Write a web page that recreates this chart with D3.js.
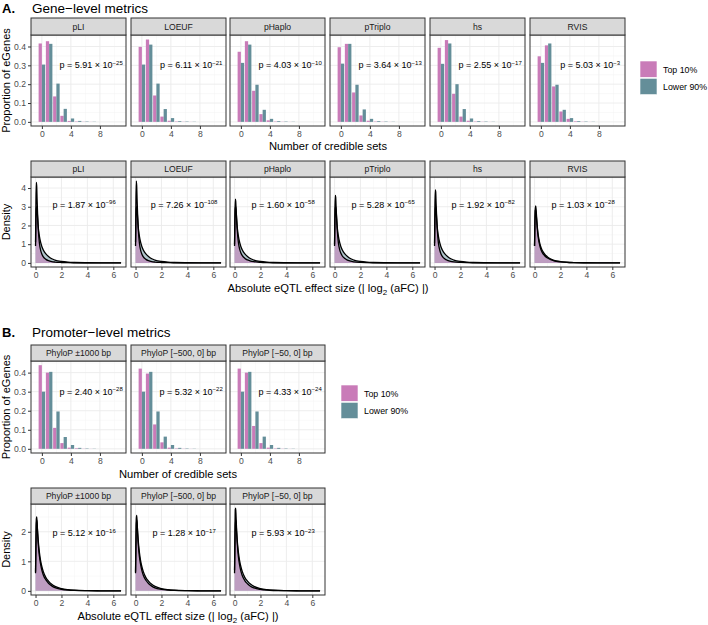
<!DOCTYPE html>
<html><head><meta charset="utf-8">
<script src="https://cdn.jsdelivr.net/npm/d3@7"></script>
<style>
body{margin:0;background:#fff}
text{font-family:"Liberation Sans",Arial,Helvetica,sans-serif}
</style>
</head><body>
<svg id="chart" width="708" height="625"></svg>
<script>
// ---------------- DATA ----------------
const geneMetrics = ["pLI","LOEUF","pHaplo","pTriplo","hs","RVIS"];
const promoterMetrics = ["PhyloP \u00b11000 bp","PhyloP [\u2212500, 0] bp","PhyloP [\u221250, 0] bp"];
const groups = ["Top 10%","Lower 90%"];
const credibleSets = [0,1,2,3,4,5,6,7];

// proportion of eGenes per number of credible sets (Top 10%, Lower 90%)
const geneBarTop = [
  [0.416,0.428,0.135,0.032,0.005,0.002,0.001,0.0005],
  [0.398,0.437,0.140,0.028,0.006,0.002,0.001,0.0005],
  [0.372,0.428,0.165,0.041,0.008,0.002,0.001,0.0005],
  [0.396,0.414,0.156,0.034,0.006,0.002,0.001,0.0005],
  [0.393,0.434,0.149,0.028,0.006,0.002,0.001,0.0005],
  [0.348,0.406,0.188,0.055,0.016,0.003,0.001,0.0005]
];
const geneBarLower = [
  [0.304,0.414,0.203,0.069,0.018,0.005,0.002,0.001],
  [0.304,0.410,0.203,0.068,0.020,0.004,0.002,0.001],
  [0.313,0.410,0.197,0.064,0.016,0.004,0.002,0.001],
  [0.309,0.414,0.197,0.066,0.016,0.004,0.002,0.001],
  [0.308,0.416,0.200,0.068,0.018,0.004,0.002,0.001],
  [0.313,0.416,0.197,0.064,0.020,0.004,0.002,0.001]
];
const promBarTop = [
  [0.439,0.400,0.110,0.030,0.006,0.003,0.001,0.0005],
  [0.421,0.395,0.128,0.034,0.006,0.002,0.001,0.0005],
  [0.421,0.400,0.120,0.030,0.006,0.002,0.001,0.0005]
];
const promBarLower = [
  [0.300,0.404,0.196,0.062,0.020,0.005,0.002,0.001],
  [0.300,0.404,0.196,0.064,0.020,0.005,0.002,0.001],
  [0.300,0.404,0.196,0.064,0.020,0.005,0.002,0.001]
];

// density of |log2(aFC)| on a shared grid
const densX = [0,0.03,0.06,0.09,0.12,0.16,0.2,0.25,0.3,0.4,0.5,0.6,0.8,1.0,1.25,1.5,2.0,2.5,3.0,4.0,5.0,6.6];
const geneDensTop = [
  [1.1,3.2,4.3,4.1,3.4,2.6,1.95,1.42,1.05,0.66,0.45,0.32,0.19,0.12,0.07,0.045,0.022,0.011,0.006,0.002,0.001,0],
  [1.1,3.3,4.37,4.1,3.4,2.6,1.95,1.42,1.05,0.66,0.45,0.32,0.19,0.12,0.07,0.045,0.022,0.011,0.006,0.002,0.001,0],
  [1.0,2.6,3.4,3.3,2.9,2.3,1.85,1.4,1.08,0.72,0.52,0.39,0.24,0.16,0.1,0.065,0.032,0.016,0.008,0.003,0.001,0],
  [1.0,2.8,3.6,3.5,3.0,2.4,1.88,1.4,1.06,0.7,0.5,0.37,0.23,0.15,0.09,0.058,0.028,0.014,0.007,0.003,0.001,0],
  [1.05,3.0,3.9,3.8,3.2,2.5,1.92,1.42,1.06,0.69,0.48,0.35,0.21,0.135,0.08,0.05,0.025,0.013,0.007,0.002,0.001,0],
  [0.9,2.2,2.8,2.85,2.65,2.3,1.95,1.58,1.3,0.94,0.7,0.55,0.37,0.26,0.17,0.11,0.055,0.028,0.015,0.006,0.002,0]
];
const geneDensLower = [
  [0.9,2.2,2.9,3.0,2.8,2.4,2.0,1.66,1.42,1.08,0.85,0.69,0.48,0.34,0.22,0.15,0.075,0.038,0.021,0.008,0.003,0],
  [0.9,2.2,2.9,3.0,2.8,2.4,2.0,1.66,1.42,1.08,0.85,0.69,0.48,0.34,0.22,0.15,0.075,0.038,0.021,0.008,0.003,0],
  [0.9,2.2,2.9,3.0,2.8,2.4,2.0,1.66,1.42,1.08,0.85,0.69,0.48,0.34,0.22,0.15,0.075,0.038,0.021,0.008,0.003,0],
  [0.9,2.2,2.9,3.0,2.8,2.4,2.0,1.66,1.42,1.08,0.85,0.69,0.48,0.34,0.22,0.15,0.075,0.038,0.021,0.008,0.003,0],
  [0.9,2.2,2.9,3.0,2.8,2.4,2.0,1.66,1.42,1.08,0.85,0.69,0.48,0.34,0.22,0.15,0.075,0.038,0.021,0.008,0.003,0],
  [0.9,2.2,2.9,3.05,2.85,2.45,2.05,1.68,1.42,1.06,0.82,0.66,0.45,0.32,0.21,0.14,0.07,0.035,0.02,0.008,0.003,0]
];
const promDensTop = [
  [0.65,1.7,2.4,2.5,2.3,1.95,1.65,1.38,1.17,0.88,0.68,0.54,0.37,0.26,0.17,0.11,0.055,0.028,0.015,0.005,0.002,0],
  [0.65,1.75,2.45,2.55,2.33,1.96,1.65,1.37,1.16,0.87,0.67,0.53,0.36,0.25,0.16,0.1,0.05,0.026,0.014,0.005,0.002,0],
  [0.7,1.9,2.75,2.8,2.5,2.05,1.7,1.38,1.15,0.85,0.65,0.51,0.34,0.24,0.15,0.1,0.05,0.025,0.013,0.005,0.002,0]
];
const promDensLower = [
  [0.6,1.5,2.2,2.4,2.3,2.0,1.75,1.5,1.3,1.0,0.8,0.65,0.45,0.33,0.22,0.15,0.075,0.04,0.022,0.008,0.003,0],
  [0.6,1.5,2.2,2.4,2.3,2.0,1.75,1.5,1.3,1.0,0.8,0.65,0.45,0.33,0.22,0.15,0.075,0.04,0.022,0.008,0.003,0],
  [0.6,1.5,2.2,2.4,2.3,2.0,1.75,1.5,1.3,1.0,0.8,0.65,0.45,0.33,0.22,0.15,0.075,0.04,0.022,0.008,0.003,0]
];

// p-values: mantissa and exponent
const geneBarPMant = ["5.91","6.11","4.03","3.64","2.55","5.03"];
const geneBarPExp  = [-25,-21,-10,-13,-17,-3];
const geneDensPMant = ["1.87","7.26","1.60","5.28","1.92","1.03"];
const geneDensPExp  = [-96,-108,-58,-65,-82,-28];
const promBarPMant = ["2.40","5.32","4.33"];
const promBarPExp  = [-28,-22,-24];
const promDensPMant = ["5.12","1.28","5.93"];
const promDensPExp  = [-16,-17,-23];

const barXTicks = [0,4,8], barXMinor = [2,6,10];
const barYTicks = [0,0.1,0.2,0.3,0.4];
const densXTicks = [0,2,4,6], densXMinor = [1,3,5];
const geneDensYTicks = [0,1,2,3,4];
const promDensYTicks = [0,1,2];

// ---------------- STYLE / LAYOUT ----------------
const pink = "#c97bb8", teal = "#648e99";
const svg = d3.select("#chart");
const colX = [31,131,230,330,430,530];
const panelW = 95;
const gridCol = "#ebebeb";

const allBar = [...geneBarTop,...geneBarLower,...promBarTop,...promBarLower].flat();
const barMax = d3.max(allBar);
const barY = [-0.05*barMax, 1.05*barMax];
const geneDensMax = d3.max([...geneDensTop,...geneDensLower].flat());
const promDensMax = d3.max([...promDensTop,...promDensLower].flat());

function minorsBetween(ticks, dom){
  const out=[]; const step = ticks[1]-ticks[0];
  for(let v=ticks[0]-step/2; v<=dom[1]; v+=step) if(v>=dom[0]) out.push(+v.toFixed(6));
  return out;
}

function pLabel(g, x, y, mant, exp){
  const t = g.append("text").attr("x",x).attr("y",y).attr("text-anchor","middle")
    .attr("font-size",9).attr("fill","#000");
  t.append("tspan").text("p = "+mant+" \u00d7 10");
  t.append("tspan").attr("dy",-3.6).attr("font-size",6).text(String(exp).replace("-","\u2212"));
}

function panelFrame(x0, stripTop, bodyTop, bodyBot, label){
  svg.append("rect").attr("x",x0).attr("y",stripTop).attr("width",panelW).attr("height",bodyTop-stripTop)
    .attr("fill","#d9d9d9").attr("stroke","#333").attr("stroke-width",1);
  svg.append("text").attr("x",x0+panelW/2).attr("y",(stripTop+bodyTop)/2+3).attr("text-anchor","middle")
    .attr("font-size",8.6).attr("fill","#1a1a1a").text(label);
}

function gridAndAxes(g, xs, ys, xt, xm, yt, ym, showY, bodyTop, bodyBot, x0, fmtY){
  xm.forEach(v=>g.append("line").attr("x1",xs(v)).attr("x2",xs(v)).attr("y1",bodyTop).attr("y2",bodyBot).attr("stroke","#f3f3f3").attr("stroke-width",0.5));
  ym.forEach(v=>g.append("line").attr("y1",ys(v)).attr("y2",ys(v)).attr("x1",x0).attr("x2",x0+panelW).attr("stroke","#f3f3f3").attr("stroke-width",0.5));
  xt.forEach(v=>g.append("line").attr("x1",xs(v)).attr("x2",xs(v)).attr("y1",bodyTop).attr("y2",bodyBot).attr("stroke",gridCol).attr("stroke-width",0.9));
  yt.forEach(v=>g.append("line").attr("y1",ys(v)).attr("y2",ys(v)).attr("x1",x0).attr("x2",x0+panelW).attr("stroke",gridCol).attr("stroke-width",0.9));
  const ax = svg.append("g").attr("transform",`translate(0,${bodyBot})`)
    .call(d3.axisBottom(xs).tickValues(xt).tickSize(3).tickPadding(2).tickFormat(d3.format("d")));
  ax.select(".domain").remove();
  ax.selectAll("line").attr("stroke","#333");
  ax.selectAll("text").attr("font-size",8.6).attr("fill","#4d4d4d").attr("font-family","Liberation Sans, Arial, sans-serif");
  if(showY){
    const ay = svg.append("g").attr("transform",`translate(${x0},0)`)
      .call(d3.axisLeft(ys).tickValues(yt).tickSize(3).tickPadding(2).tickFormat(fmtY));
    ay.select(".domain").remove();
    ay.selectAll("line").attr("stroke","#333");
    ay.selectAll("text").attr("font-size",8.6).attr("fill","#4d4d4d").attr("font-family","Liberation Sans, Arial, sans-serif");
  }
}

function barPanel(x0, stripTop, bodyTop, bodyBot, label, top, lower, mant, exp, showY){
  const xs = d3.scaleLinear().domain([-1.5,11.6]).range([x0,x0+panelW]);
  const ys = d3.scaleLinear().domain(barY).range([bodyBot,bodyTop]);
  const g = svg.append("g");
  g.append("rect").attr("x",x0).attr("y",bodyTop).attr("width",panelW).attr("height",bodyBot-bodyTop).attr("fill","#fff");
  gridAndAxes(g, xs, ys, barXTicks, barXMinor, barYTicks, minorsBetween(barYTicks, barY), showY, bodyTop, bodyBot, x0, d3.format(".1f"));
  credibleSets.forEach((c,i)=>{
    g.append("rect").attr("x",xs(c-0.45)).attr("width",xs(c)-xs(c-0.45))
      .attr("y",ys(top[i])).attr("height",ys(0)-ys(top[i])).attr("fill",pink);
    g.append("rect").attr("x",xs(c)).attr("width",xs(c+0.45)-xs(c))
      .attr("y",ys(lower[i])).attr("height",ys(0)-ys(lower[i])).attr("fill",teal);
  });
  pLabel(g, xs(6.8), ys(0.3)+3, mant, exp);
  g.append("rect").attr("x",x0).attr("y",bodyTop).attr("width",panelW).attr("height",bodyBot-bodyTop)
    .attr("fill","none").attr("stroke","#333").attr("stroke-width",1);
  panelFrame(x0, stripTop, bodyTop, bodyBot, label);
}

function densPanel(x0, stripTop, bodyTop, bodyBot, label, top, lower, mant, exp, showY, dmax, yt, pY){
  const xs = d3.scaleLinear().domain([-0.35,6.98]).range([x0,x0+panelW]);
  const yd = [-0.05*dmax, 1.05*dmax];
  const ys = d3.scaleLinear().domain(yd).range([bodyBot,bodyTop]);
  const g = svg.append("g");
  g.append("rect").attr("x",x0).attr("y",bodyTop).attr("width",panelW).attr("height",bodyBot-bodyTop).attr("fill","#fff");
  gridAndAxes(g, xs, ys, densXTicks, densXMinor, yt, minorsBetween(yt, yd), showY, bodyTop, bodyBot, x0, d3.format("d"));
  const area = d3.area().x((d,i)=>xs(densX[i])).y0(ys(0)).y1(d=>ys(d)).curve(d3.curveMonotoneX);
  const line = d3.line().x((d,i)=>xs(densX[i])).y(d=>ys(d)).curve(d3.curveMonotoneX);
  g.append("path").attr("d",area(lower)).attr("fill",teal).attr("fill-opacity",0.5);
  g.append("path").attr("d",area(top)).attr("fill",pink).attr("fill-opacity",0.55);
  g.append("path").attr("d",line(lower)).attr("fill","none").attr("stroke","#000").attr("stroke-width",1.3);
  g.append("path").attr("d",line(top)).attr("fill","none").attr("stroke","#000").attr("stroke-width",1.3);
  pLabel(g, xs(3.75), ys(pY)+3, mant, exp);
  g.append("rect").attr("x",x0).attr("y",bodyTop).attr("width",panelW).attr("height",bodyBot-bodyTop)
    .attr("fill","none").attr("stroke","#333").attr("stroke-width",1);
  panelFrame(x0, stripTop, bodyTop, bodyBot, label);
}

function legend(x, y){
  [pink, teal].forEach((c,i)=>{
    svg.append("rect").attr("x",x).attr("y",y+i*17.3).attr("width",17).attr("height",16.3)
      .attr("fill",c).attr("stroke","#fff").attr("stroke-width",0.6);
    svg.append("text").attr("x",x+23).attr("y",y+i*17.3+11.5).attr("font-size",8.8)
      .attr("fill","#000").text(groups[i]);
  });
}

function titles(label, title, y){
  svg.append("text").attr("x",2).attr("y",y).attr("font-size",13).attr("font-weight","bold").text(label);
  svg.append("text").attr("x",32).attr("y",y).attr("font-size",13.5).text(title);
}

function yTitle(text, cy){
  svg.append("text").attr("transform",`translate(10,${cy}) rotate(-90)`).attr("text-anchor","middle")
    .attr("font-size",11).attr("fill","#000").text(text);
}
function xTitle(cx, y){
  return svg.append("text").attr("x",cx).attr("y",y).attr("text-anchor","middle").attr("font-size",11.2).attr("fill","#000");
}
function effectTitle(cx,y){
  const t = xTitle(cx,y);
  t.append("tspan").text("Absolute eQTL effect size (| log");
  t.append("tspan").attr("font-size",8).attr("dy",3).text("2");
  t.append("tspan").attr("dy",-3).text(" (aFC) |)");
}

// ---------------- A ----------------
titles("A.","Gene\u2212level metrics",13);
geneMetrics.forEach((m,i)=>barPanel(colX[i],18,35,126,m,geneBarTop[i],geneBarLower[i],geneBarPMant[i],geneBarPExp[i],i===0));
geneMetrics.forEach((m,i)=>densPanel(colX[i],161,177,267,m,geneDensTop[i],geneDensLower[i],geneDensPMant[i],geneDensPExp[i],i===0,geneDensMax,geneDensYTicks,3.1));
yTitle("Proportion of eGenes",80.5);
yTitle("Density",222);
xTitle(328,150).text("Number of credible sets");
effectTitle(328,292);
legend(640,61);

// ---------------- B ----------------
titles("B.","Promoter\u2212level metrics",337);
promoterMetrics.forEach((m,i)=>barPanel(colX[i],345,361,453,m,promBarTop[i],promBarLower[i],promBarPMant[i],promBarPExp[i],i===0));
promoterMetrics.forEach((m,i)=>densPanel(colX[i],488,504,595,m,promDensTop[i],promDensLower[i],promDensPMant[i],promDensPExp[i],i===0,promDensMax,promDensYTicks,1.95));
yTitle("Proportion of eGenes",407);
yTitle("Density",549.5);
xTitle(178,478).text("Number of credible sets");
effectTitle(178,620);
legend(341,385);
</script>
</body></html>
